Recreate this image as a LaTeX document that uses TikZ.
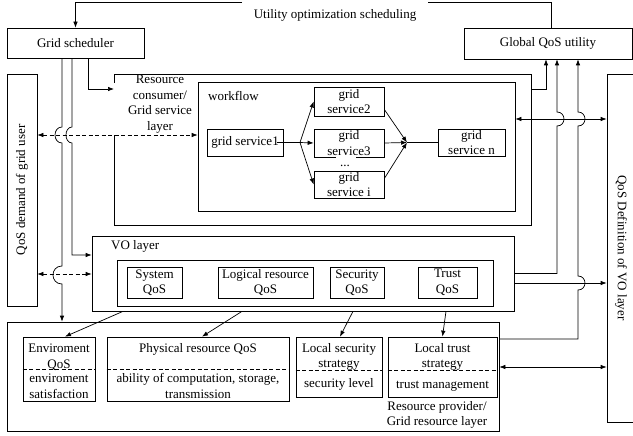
\documentclass[tikz,border=0pt]{standalone}
\usepackage{fontspec}
\setmainfont{Liberation Serif}
\usetikzlibrary{arrows.meta}
\begin{document}
\begin{tikzpicture}[x=1pt,y=-1pt,
  every node/.style={font=\fontsize{13}{15.5}\selectfont, inner sep=0pt, align=center},
  box/.style={draw, line width=0.7pt},
  ln/.style={line width=0.7pt},
  arr/.style={ln, -{Latex[length=6pt,width=4.5pt]}},
  darr/.style={ln, {Latex[length=6pt,width=4.5pt]}-{Latex[length=6pt,width=4.5pt]}},
  dsh/.style={dash pattern=on 4pt off 2.5pt}]
\useasboundingbox (0,0) rectangle (633,436);
\clip (0,0) rectangle (633,436);

% helper coordinates
\coordinate (h135) at (0,135);
\coordinate (h274) at (0,274);
\coordinate (h119) at (0,119);
\coordinate (h283) at (0,283);
\coordinate (h339) at (0,339);
\coordinate (h367) at (0,367);
\coordinate (v62) at (62,0);

% top boxes
\node[box, minimum width=137pt, minimum height=30pt] (gs) at (75.5,43) {Grid scheduler};
\node[box, minimum width=168pt, minimum height=31pt] (gq) at (548,43.5) {Global QoS utility};
\node (ut) at (335,15) {Utility optimization scheduling};
\coordinate (tr) at (551,2);
\coordinate (tl) at (75.5,2);
\coordinate (g1) at (428,2);
\coordinate (g2) at (242,2);
\draw[ln] ([xshift=3pt]gq.north) -- (tr) -- (g1);
\draw[arr] (g2) -- (tl) -- (gs.north);

% side boxes
\node[box, minimum width=30pt, minimum height=232pt] (ld) at (22,190) {};
\node[rotate=90] at (ld.center) {QoS demand of grid user};
\node[box, minimum width=30pt, minimum height=348pt] (qd) at (622,248) {};
\node[rotate=-90] at (621,248) {QoS Definition of VO layer};

% resource consumer layer
\draw[ln] (114,83) -- (114,74) -- (531,74) -- (531,225) -- (114,225) -- (114,135);
\coordinate (rce) at (531,89);
\coordinate (rcw) at (114,89);
\node (rcl) at (160,104) {Resource\\consumer/\\Grid service\\layer};

% workflow
\node[box, minimum width=317pt, minimum height=129pt] (wf) at (356.5,146.5) {};
\node[anchor=west] (wfl) at (208,96) {workflow};
\node[box, minimum width=76pt, minimum height=27pt] (s1) at (245,142.5) {grid service1};
\node[box, minimum width=70pt, minimum height=29pt] (s2) at (349,101.5) {grid\\service2};
\node[box, minimum width=70pt, minimum height=28pt] (s3) at (349,143) {grid\\service3};
\node[box, minimum width=70pt, minimum height=27pt] (si) at (349,184.5) {grid\\service i};
\node[box, minimum width=67pt, minimum height=27pt] (sn) at (471.5,142.5) {grid\\service n};
\fill[white] (336,155.5) rectangle (356,159);
\node (dots) at (345,166) {...};
\coordinate (b1) at (300,142.5);
\coordinate (m1) at (407,142.5);
\draw[ln] ([xshift=-6pt]s1.east) -- (b1);
\draw[arr] (b1) -- (s2.west);
\draw[arr] (b1) -- (s3.west);
\draw[arr] (b1) -- (si.west);
\draw[arr] ([yshift=-8pt]s2.east) -- (m1);
\draw[arr] (s3.east) -- (m1);
\draw[arr] ([yshift=6pt]si.east) -- (m1);
\draw[ln] (m1) -- (sn.west);

% VO layer
\node[box, minimum width=422pt, minimum height=75pt] (vo) at (303,273.5) {};
\node[anchor=west] (vol) at (111,246) {VO layer};
\node[box, minimum width=376pt, minimum height=46pt] (voi) at (305,283) {};
\node[box, minimum width=55pt, minimum height=31pt] (sq) at (154.5,282.5) {System\\QoS};
\node[box, minimum width=95pt, minimum height=31pt] (lq) at (265.5,282.5) {Logical resource\\QoS};
\node[box, minimum width=54pt, minimum height=31pt] (secq) at (357,282.5) {Security\\QoS};
\node[box, minimum width=59pt, minimum height=31pt] (tq) at (447.5,282.5) {Trust\\QoS};

% resource provider layer
\node[box, minimum width=492pt, minimum height=109pt] (rp) at (253,376.5) {};
\node (rpl) at (437,415) {Resource provider/\\Grid resource layer};
\node[box, minimum width=72pt, minimum height=64pt] (env) at (59,369) {};
\draw[ln,dsh] (env.west) -- (env.east);
\node at (59,357) {Enviroment\\QoS};
\node at (59,386.5) {enviroment\\satisfaction};
\node[box, minimum width=182pt, minimum height=64pt] (ph) at (198,369) {};
\draw[ln,dsh] (ph.west) -- (ph.east);
\node at (198,349) {Physical resource QoS};
\node at (198,386) {ability of computation, storage,\\transmission};
\node[box, minimum width=86pt, minimum height=60pt] (ls) at (339,367) {};
\draw[ln,dsh] ([yshift=-3pt]ls.west) -- ([yshift=-3pt]ls.east);
\node at (339,357) {Local security\\strategy};
\node at (339,384) {security level};
\node[box, minimum width=109pt, minimum height=60pt] (lt) at (442.5,367) {};
\draw[ln,dsh] ([yshift=-3pt]lt.west) -- ([yshift=-3pt]lt.east);
\node at (442.5,357) {Local trust\\strategy};
\node at (442.5,386) {trust management};

% left connectors
\draw[arr] ([xshift=12.5pt]gs.south) |- (rcw);
\draw[arr] ([xshift=-13.5pt]gs.south) -- (62,127) .. controls (52.7,127) and (52.7,143) .. (62,143)
   -- (62,266) .. controls (50,266) and (50,284) .. (62,284) -- (v62 |- rp.north);
\draw[arr] ([xshift=-3.5pt]gs.south) -- (72,127) .. controls (64,127) and (64,143) .. (72,143)
   -- (72,255) -- ([yshift=18.5pt]vo.west);
\draw[darr,dsh] (ld.east |- h135) -- (wf.west |- h135);
\draw[darr,dsh] (ld.east |- h274) -- (vo.west |- h274);

% right connectors
\draw[arr] (rce) -| ([xshift=-2pt]gq.south);
\draw[darr] (wf.east |- h119) -- (qd.west |- h119);
\draw[arr] (vo.east) -- (557,273.5) -- (557,126) .. controls (566.3,126) and (566.3,112) .. (557,112)
   -- ([xshift=9pt]gq.south);
\draw[arr] (vo.east |- h283) -- (qd.west |- h283);
\draw[arr] (rp.east |- h339) -- (578,339) -- (578,290) .. controls (587.3,290) and (587.3,276) .. (578,276)
   -- (578,126) .. controls (587.3,126) and (587.3,112) .. (578,112) -- ([xshift=30pt]gq.south);
\draw[darr] (rp.east |- h367) -- (qd.west |- h367);

% VO to resource layer
\draw[arr] ([xshift=-180pt]vo.south) -- ([xshift=6pt]env.north);
\draw[arr] ([xshift=-61pt]vo.south) -- ([xshift=4pt]ph.north);
\draw[arr] ([xshift=50pt]vo.south) -- ([xshift=1pt]ls.north);
\draw[arr] ([xshift=143pt]vo.south) -- (lt.north);
\end{tikzpicture}
\end{document}
